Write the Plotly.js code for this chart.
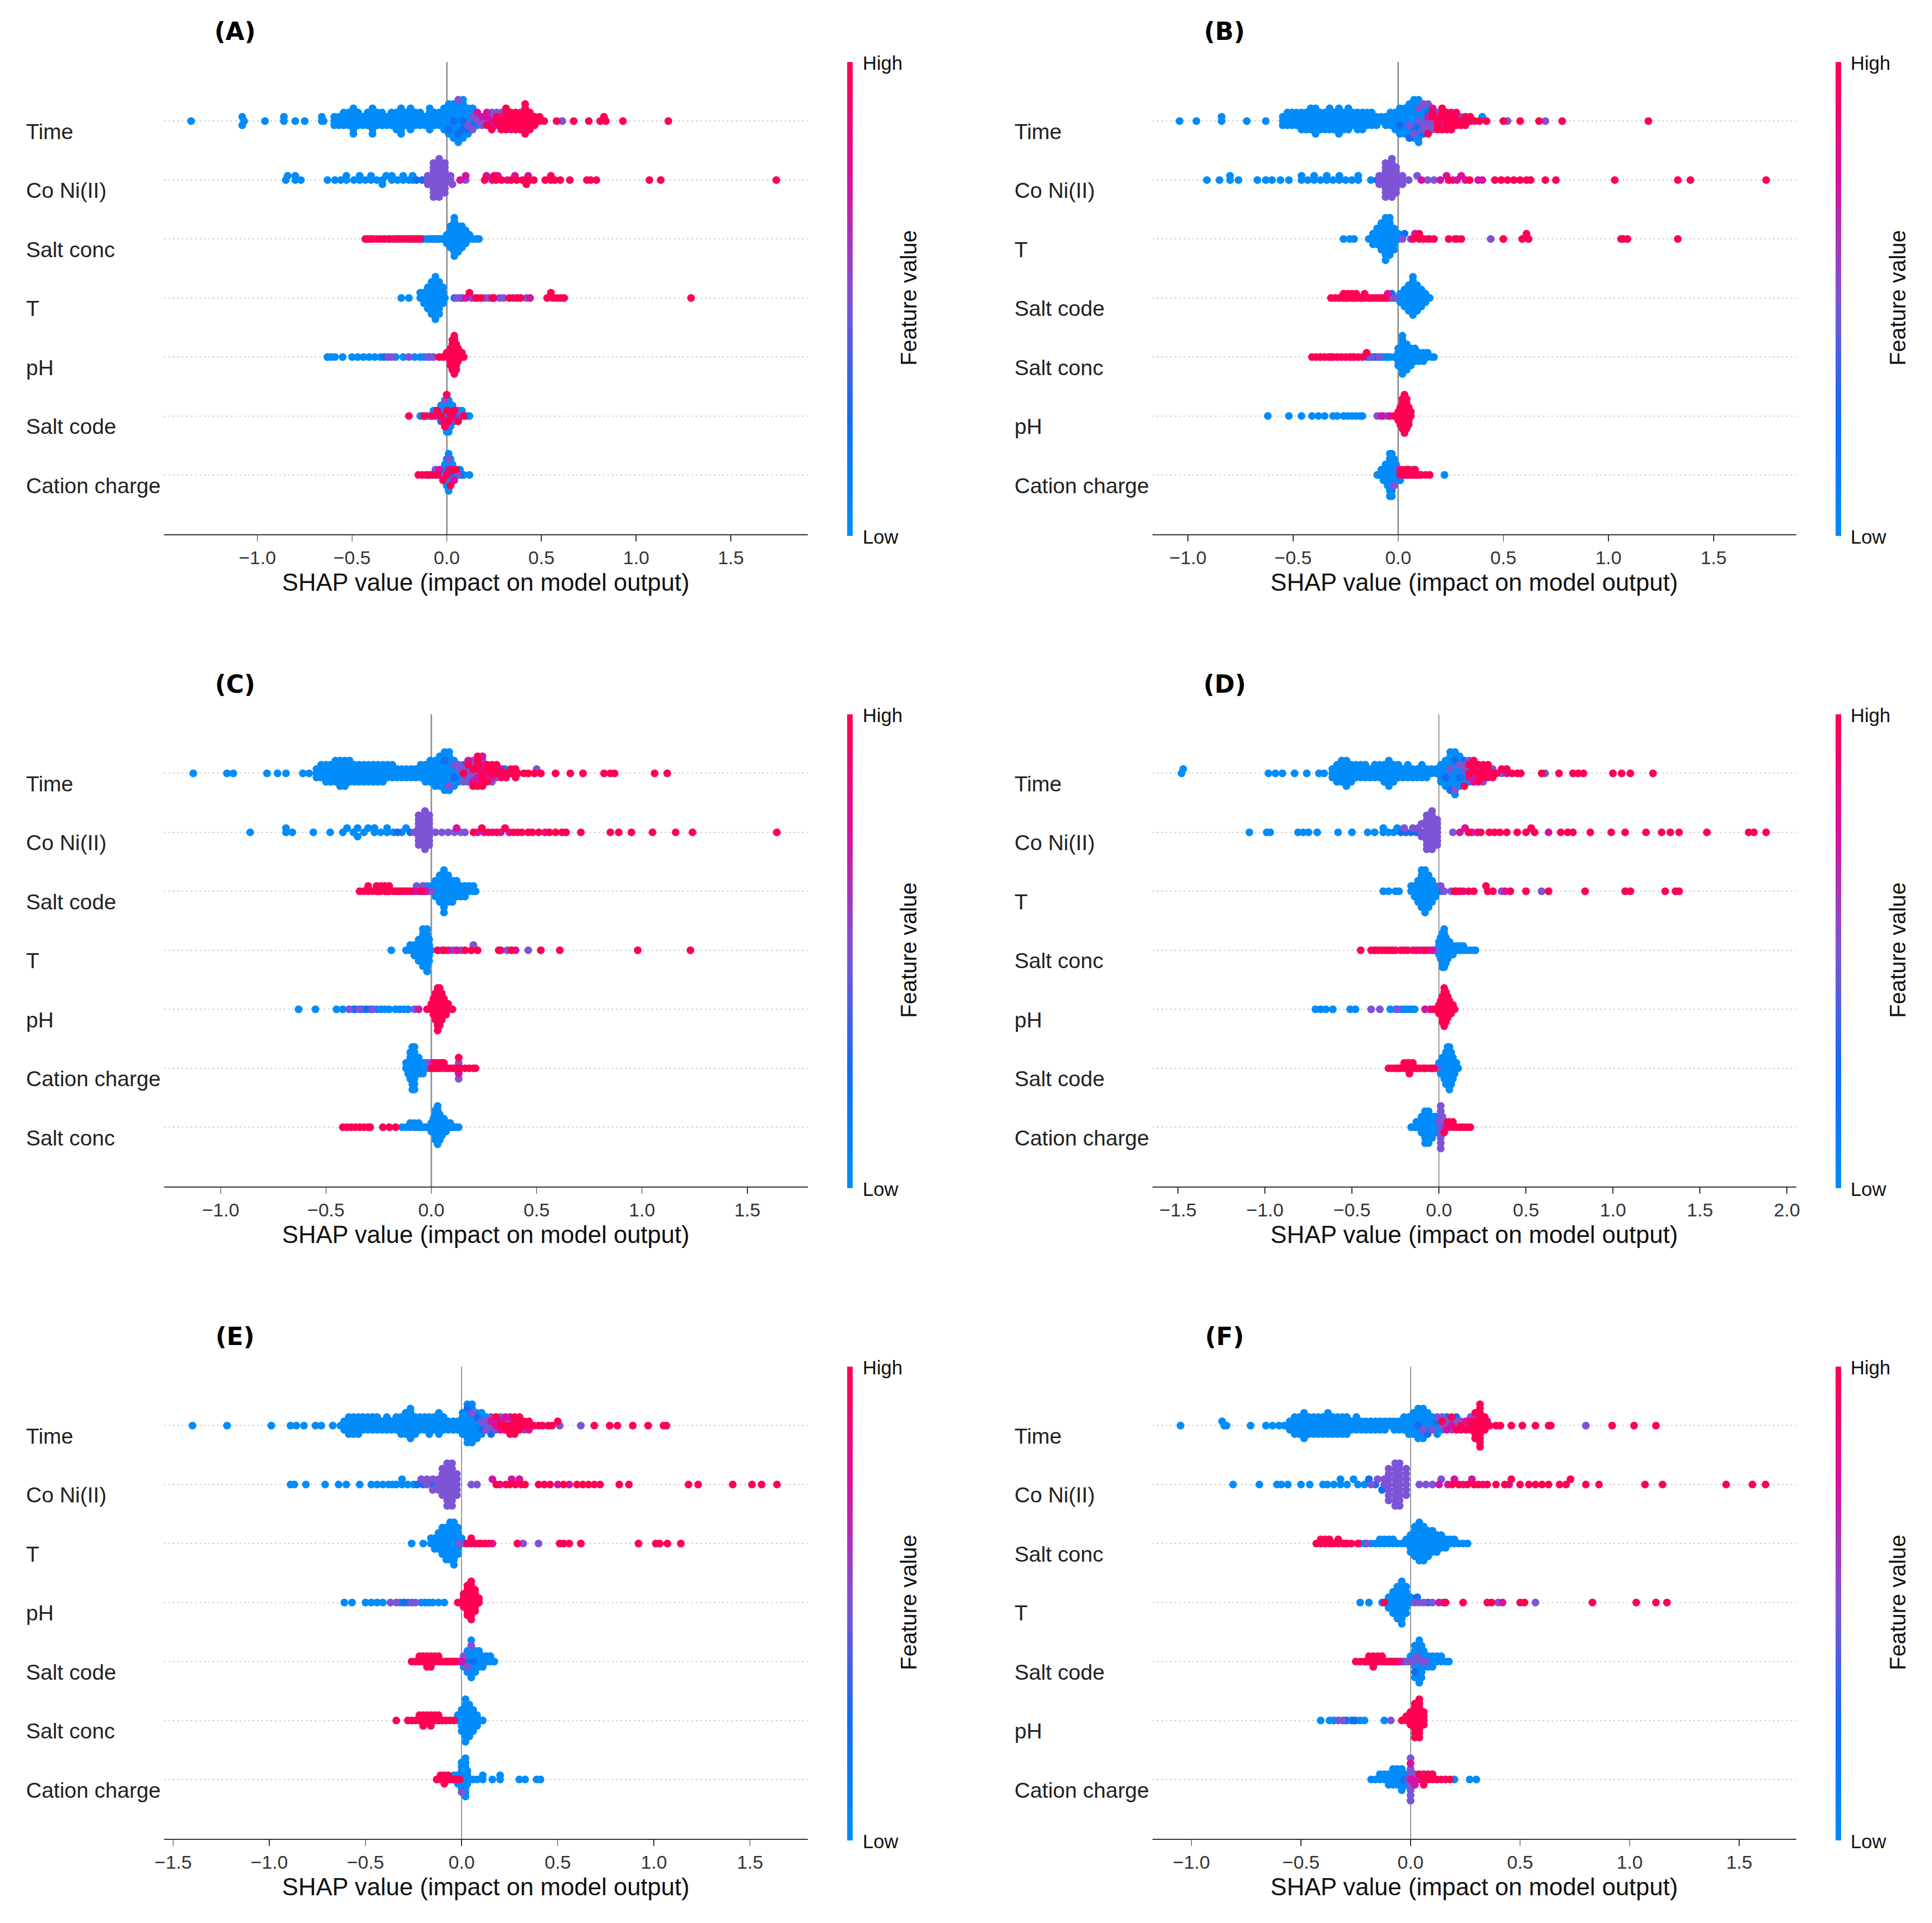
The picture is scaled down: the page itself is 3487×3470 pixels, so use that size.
<!DOCTYPE html>
<html><head><meta charset="utf-8">
<script src="https://cdn.plot.ly/plotly-3.0.1.min.js"></script>
<style>html,body{margin:0;padding:0;background:#fff}</style>
</head><body><div id="chart" style="width:3487px;height:3470px"></div>
<script>
// ---------- DATA (SHAP values per feature row; grouped by feature-value level 0=Low ... 4=High) ----------
const featA = ["Time","Co Ni(II)","Salt conc","T","pH","Salt code","Cation charge"];
const featB = ["Time","Co Ni(II)","T","Salt code","Salt conc","pH","Cation charge"];
const featC = ["Time","Co Ni(II)","Salt code","T","pH","Cation charge","Salt conc"];
const featD = ["Time","Co Ni(II)","T","Salt conc","pH","Salt code","Cation charge"];
const featE = ["Time","Co Ni(II)","T","pH","Salt code","Salt conc","Cation charge"];
const featF = ["Time","Co Ni(II)","Salt conc","T","Salt code","pH","Cation charge"];
const levelNames = ["Low","","","","High"];

// Panel A
const A_L0 = [
 [-1.35,-1.08,-1.08,-1.07,-.96,-.86,-.86,-.8,-.75,-.66,-.66,-.65,-.594,-.594,-.594,-.569,-.569,-.569,-.544,-.544,-.544,-.544,-.518,-.518,-.518,-.518,-.493,-.493,-.493,-.493,-.493,-.493,-.493,-.468,-.468,-.468,-.468,-.443,-.443,-.443,-.418,-.418,-.418,-.418,-.392,-.392,-.392,-.392,-.392,-.392,-.392,-.367,-.367,-.367,-.367,-.342,-.342,-.342,-.342,-.317,-.317,-.317,-.292,-.292,-.292,-.292,-.266,-.266,-.266,-.266,-.266,-.241,-.241,-.241,-.241,-.241,-.241,-.241,-.216,-.216,-.216,-.216,-.191,-.191,-.191,-.191,-.191,-.191,-.166,-.166,-.166,-.166,-.14,-.14,-.14,-.14,-.115,-.115,-.115,-.09,-.09,-.09,-.09,-.09,-.09,-.065,-.065,-.065,-.065,-.04,-.04,-.04,-.04,-.014,-.014,-.014,-.014,-.014,-.014,.011,.011,.011,.011,.011,.011,.011,.036,.036,.036,.036,.036,.036,.036,.036,.061,.061,.061,.061,.061,.061,.061,.061,.061,.086,.086,.086,.086,.086,.086,.086,.086,.112,.112,.112,.112,.112,.137,.137,.137,.162],
 [-.85,-.84,-.8,-.8,-.77,-.63,-.59,-.56,-.53,-.53,-.49,-.46,-.46,-.43,-.4,-.4,-.37,-.34,-.34,-.32,-.29,-.29,-.26,-.23,-.23,-.2,-.18,-.18],
 [-.31,-.27,-.23,-.21,-.17,-.15,-.13,-.12,-.1,-.09,-.08,-.07,-.06,-.05,-.04,-.03,-.02,-.01,0,0,0,.02,.02,.02,.02,.02,.02,.04,.04,.04,.04,.04,.04,.04,.04,.04,.04,.06,.06,.06,.06,.06,.06,.06,.08,.08,.08,.08,.08,.08,.1,.1,.1,.1,.12,.12,.14,.16,.17],
 [-.24,-.2,-.14,-.14,-.12,-.12,-.12,-.1,-.1,-.1,-.1,-.1,-.08,-.08,-.08,-.08,-.08,-.08,-.08,-.06,-.06,-.06,-.06,-.06,-.06,-.06,-.06,-.06,-.04,-.04,-.04,-.04,-.04,-.04,-.04,-.02,-.02,-.02,-.02,-.01],
 [-.63,-.61,-.59,-.55,-.5,-.47,-.44,-.41,-.38,-.35,-.27,-.23,-.17,-.14,-.12,-.09],
 [-.14,-.13,-.11,-.09,-.07,-.06,-.05,-.04,-.03,-.03,-.02,-.02,-.01,-.01,-.01,0,0,0,0,0,.01,.01,.01,.01,.01,.02,.02,.02,.03,.03,.04,.04,.05,.06,.07,.08,.1,.11,.12],
 [-.1,-.08,-.06,-.04,-.03,-.02,-.02,-.01,-.01,-.01,0,0,0,0,0,.01,.01,.01,.01,.01,.01,.02,.02,.02,.02,.03,.03,.04,.04,.05,.06,.07,.08,.09,.12]
];
const A_L1 = [[.011,.036,.061,.086,.086,.112,.137],[-.16,-.13],[-.26],[.04,.08],[-.33],[-.07,-.03,.03,.06],[-.03,.02,.07]];
const A_L2 = [
 [.061,.112,.137,.137,.162,.162,.187,.187,.212,.238,.238,.263,.288,.61],
 [-.1,-.1,-.1,-.07,-.07,-.07,-.07,-.07,-.07,-.07,-.07,-.07,-.04,-.04,-.04,-.04,-.04,-.04,-.04,-.04,-.04,-.04,-.01,-.01,-.01,-.01,-.01,-.01,-.01,-.01,.02,.02,.03,.1],
 [-.24,-.19],
 [.05,.07,.13,.2,.22,.28,.3,.42],
 [-.31,-.29,-.2,-.1,-.07],
 [-.1,-.04,-.01,0,.02,.05,.08],
 [-.06,-.01,.01,.03,.06]
];
const A_L3 = [[.162,.187,.212,.212,.238,.238,.263,.288,.338,.389],[.07,.1,.21,.24,.27,.32,.36,.43],[],[.1,.15,.25,.35,.44],[],[-.06,-.02,.01,.03],[-.04,.01,.04]];
const A_L4 = [
 [.212,.238,.263,.263,.288,.288,.288,.313,.313,.313,.313,.313,.313,.338,.338,.338,.338,.364,.364,.364,.364,.364,.389,.389,.389,.389,.414,.414,.414,.414,.414,.414,.414,.414,.439,.439,.439,.439,.439,.464,.464,.464,.49,.49,.515,.58,.67,.75,.81,.83,.84,.93,1.17],
 [.2,.25,.26,.29,.34,.37,.4,.42,.42,.44,.46,.52,.55,.55,.57,.6,.65,.74,.76,.79,1.07,1.13,1.74],
 [-.43,-.42,-.41,-.4,-.39,-.37,-.35,-.33,-.3,-.28,-.25,-.22,-.2,-.18,-.16,-.14],
 [.12,.16,.18,.24,.33,.37,.39,.53,.55,.56,.58,.6,.62,1.29],
 [-.04,-.02,0,0,.02,.02,.02,.02,.02,.03,.03,.03,.03,.03,.03,.03,.03,.04,.04,.04,.04,.04,.04,.04,.04,.04,.04,.05,.05,.05,.05,.05,.05,.05,.06,.06,.06,.06,.08,.08,.09],
 [-.2,-.12,-.08,-.05,-.03,-.01,-.01,0,0,.01,.02,.04,.06,.09],
 [-.15,-.13,-.11,-.09,-.07,-.05,-.02,0,.02,.03,.05]
];

// Panel B
const B_L0 = [
 [-1.04,-.96,-.84,-.84,-.72,-.63,-.549,-.549,-.549,-.527,-.527,-.527,-.527,-.505,-.505,-.505,-.505,-.483,-.483,-.483,-.483,-.46,-.46,-.46,-.46,-.46,-.438,-.438,-.438,-.438,-.438,-.416,-.416,-.416,-.416,-.416,-.416,-.393,-.393,-.393,-.393,-.393,-.393,-.393,-.371,-.371,-.371,-.371,-.371,-.349,-.349,-.349,-.349,-.349,-.326,-.326,-.326,-.326,-.326,-.326,-.304,-.304,-.304,-.304,-.304,-.282,-.282,-.282,-.282,-.282,-.282,-.282,-.26,-.26,-.26,-.26,-.26,-.237,-.237,-.237,-.237,-.237,-.237,-.215,-.215,-.215,-.215,-.193,-.193,-.193,-.193,-.193,-.17,-.17,-.17,-.17,-.17,-.148,-.148,-.148,-.148,-.126,-.126,-.126,-.126,-.103,-.103,-.103,-.081,-.081,-.059,-.059,-.059,-.037,-.037,-.037,-.037,-.014,-.014,-.014,-.014,-.014,.008,.008,.008,.008,.008,.008,.03,.03,.03,.03,.03,.03,.03,.053,.053,.053,.053,.053,.053,.053,.075,.075,.075,.075,.075,.075,.075,.075,.097,.097,.097,.097,.097,.097,.097,.097,.12,.12,.12,.12,.142,.142,.164,.4],
 [-.91,-.85,-.8,-.8,-.76,-.67,-.63,-.6,-.56,-.52,-.46,-.46,-.43,-.4,-.4,-.37,-.34,-.34,-.31,-.28,-.28,-.25,-.22,-.19,-.19,-.13],
 [-.26,-.23,-.21,-.14,-.12,-.12,-.12,-.1,-.1,-.1,-.1,-.08,-.08,-.08,-.08,-.08,-.08,-.06,-.06,-.06,-.06,-.06,-.06,-.06,-.06,-.06,-.04,-.04,-.04,-.04,-.04,-.04,-.04,-.04,-.02,-.02,-.02,-.02,-.02,0,0],
 [-.05,-.03,-.01,.01,.01,.01,.03,.03,.03,.03,.03,.05,.05,.05,.05,.05,.05,.05,.07,.07,.07,.07,.07,.07,.07,.07,.07,.07,.09,.09,.09,.09,.09,.09,.09,.11,.11,.11,.11,.11,.13,.13,.13,.15],
 [-.14,-.12,-.1,-.08,-.07,-.06,-.05,-.04,-.02,0,0,0,0,0,.02,.02,.02,.02,.02,.02,.02,.02,.02,.02,.04,.04,.04,.04,.04,.04,.04,.06,.06,.06,.06,.06,.08,.08,.08,.08,.1,.1,.1,.12,.12,.12,.14,.14,.16,.17],
 [-.62,-.52,-.46,-.41,-.38,-.35,-.31,-.29,-.26,-.24,-.22,-.2,-.18,-.17],
 [-.1,-.09,-.08,-.08,-.07,-.07,-.07,-.06,-.06,-.06,-.06,-.05,-.05,-.05,-.05,-.05,-.04,-.04,-.04,-.04,-.04,-.04,-.04,-.04,-.04,-.03,-.03,-.03,-.03,-.03,-.03,-.03,-.03,-.03,-.02,-.02,-.02,-.02,-.02,-.01,-.01,-.01,-.01,0,0,.01,.07,.22]
];
const B_L1 = [[.008,.053,.075,.097,.12,.142],[-.1],[.03],[-.07,-.03],[-.15,-.11],[],[]];
const B_L2 = [
 [.053,.075,.097,.097,.12,.12,.12,.142,.142,.142,.164,.164,.187,.209,.231,.253,.298,.52,.7],
 [-.09,-.09,-.09,-.06,-.06,-.06,-.06,-.06,-.06,-.06,-.06,-.06,-.03,-.03,-.03,-.03,-.03,-.03,-.03,-.03,-.03,-.03,-.01,-.01,-.01,-.01,-.01,-.01,-.01,.02,.02,.02,.05,.09,.14,.17],
 [.02,.06,.44],
 [-.11,-.04,-.02],
 [-.13,-.09],
 [-.1,-.07,-.05],
 [-.02,0,.02]
];
const B_L3 = [[.142,.164,.187,.209,.253,.276,.32],[.11,.2,.23,.26,.28,.3,.32,.38,.4],[.08,.15,.28],[-.25,-.21,-.17,-.13,-.09,-.05],[-.32,-.22],[-.08,-.04],[.01,.04,.09]];
const B_L4 = [
 [.142,.164,.164,.187,.187,.187,.209,.209,.209,.209,.231,.231,.231,.231,.253,.253,.253,.276,.276,.276,.298,.298,.32,.32,.343,.343,.365,.387,.42,.5,.58,.67,.78,1.19],
 [.24,.34,.46,.49,.52,.55,.58,.61,.63,.7,.75,1.03,1.33,1.39,1.75],
 [.07,.1,.1,.12,.14,.17,.24,.27,.3,.5,.59,.61,.62,1.06,1.07,1.09,1.33],
 [-.32,-.3,-.28,-.26,-.26,-.24,-.24,-.22,-.22,-.2,-.2,-.18,-.16,-.16,-.14,-.12,-.1,-.08,-.06],
 [-.41,-.39,-.37,-.35,-.33,-.31,-.29,-.27,-.25,-.23,-.21,-.19,-.17,-.15],
 [-.02,-.01,0,0,0,.01,.01,.01,.01,.01,.02,.02,.02,.02,.02,.02,.02,.02,.03,.03,.03,.03,.03,.03,.03,.03,.03,.03,.04,.04,.04,.04,.04,.04,.04,.04,.05,.05,.05,.05,.05,.06,.06],
 [.01,.02,.03,.04,.05,.05,.06,.07,.08,.08,.1,.11,.13,.15]
];

// Panel C
const C_L0 = [
 [-1.13,-.97,-.94,-.78,-.73,-.69,-.61,-.58,-.545,-.545,-.545,-.523,-.523,-.523,-.523,-.5,-.5,-.5,-.5,-.5,-.478,-.478,-.478,-.478,-.478,-.455,-.455,-.455,-.455,-.455,-.455,-.433,-.433,-.433,-.433,-.433,-.433,-.433,-.41,-.41,-.41,-.41,-.41,-.41,-.41,-.388,-.388,-.388,-.388,-.388,-.388,-.365,-.365,-.365,-.365,-.365,-.343,-.343,-.343,-.343,-.343,-.32,-.32,-.32,-.32,-.32,-.298,-.298,-.298,-.298,-.298,-.275,-.275,-.275,-.275,-.275,-.253,-.253,-.253,-.253,-.253,-.23,-.23,-.23,-.23,-.23,-.208,-.208,-.208,-.208,-.185,-.185,-.185,-.185,-.163,-.163,-.163,-.14,-.14,-.14,-.118,-.118,-.118,-.095,-.095,-.095,-.073,-.073,-.073,-.05,-.05,-.05,-.05,-.028,-.028,-.028,-.028,-.028,-.005,-.005,-.005,-.005,-.005,-.005,.018,.018,.018,.018,.018,.018,.018,.04,.04,.04,.04,.04,.04,.04,.04,.063,.063,.063,.063,.063,.063,.063,.063,.063,.085,.085,.085,.085,.085,.085,.085,.085,.085,.108,.108,.108,.108,.108,.13,.13,.13,.153,.175,.35],
 [-.86,-.69,-.69,-.66,-.56,-.48,-.42,-.4,-.37,-.35,-.35,-.32,-.3,-.27,-.27,-.24,-.21,-.21,-.18,-.14,-.12],
 [-.09,-.02,0,.02,.02,.02,.02,.04,.04,.04,.04,.04,.04,.06,.06,.06,.06,.06,.06,.06,.06,.06,.08,.08,.08,.08,.08,.08,.1,.1,.1,.1,.1,.12,.12,.12,.12,.14,.14,.14,.16,.16,.16,.18,.18,.2,.2,.21],
 [-.19,-.12,-.1,-.1,-.08,-.08,-.08,-.06,-.06,-.06,-.06,-.06,-.04,-.04,-.04,-.04,-.04,-.04,-.04,-.04,-.02,-.02,-.02,-.02,-.02,-.02,-.02,-.02,-.02,-.01,-.01,-.01,-.01,0],
 [-.63,-.55,-.45,-.42,-.37,-.33,-.29,-.26,-.24,-.22,-.2,-.17,-.15,-.13,-.11],
 [-.12,-.12,-.11,-.11,-.11,-.1,-.1,-.1,-.1,-.1,-.1,-.09,-.09,-.09,-.09,-.09,-.09,-.09,-.09,-.09,-.08,-.08,-.08,-.08,-.08,-.08,-.08,-.08,-.08,-.07,-.07,-.07,-.07,-.06,-.06,-.06,-.06,-.05,-.05,-.05,-.04,-.04,-.04,-.03,-.03,-.02,-.02,-.01,0,.03,.06],
 [-.14,-.12,-.1,-.1,-.08,-.08,-.07,-.06,-.06,-.05,-.04,-.03,-.02,-.01,0,0,0,.01,.01,.01,.01,.02,.02,.02,.02,.02,.02,.02,.02,.03,.03,.03,.03,.03,.03,.03,.03,.03,.03,.04,.04,.04,.04,.04,.04,.04,.05,.05,.05,.05,.05,.06,.06,.06,.06,.07,.07,.07,.08,.08,.09,.09,.1,.11,.12,.13]
];
const C_L1 = [[.063,.108,.153,.198,.243],[-.16,-.1],[-.13,-.06,-.01],[],[-.36,-.31],[],[]];
const C_L2 = [
 [.085,.108,.13,.13,.153,.153,.175,.175,.175,.198,.198,.198,.22,.22,.243,.265,.288,.31,.5],
 [-.08,-.06,-.06,-.06,-.06,-.06,-.06,-.06,-.06,-.03,-.03,-.03,-.03,-.03,-.03,-.03,-.03,-.03,-.03,-.01,-.01,-.01,-.01,-.01,-.01,-.01,-.01,.02,.05,.08,.11,.14,.16],
 [-.17,-.11,-.07,-.07,-.04,-.04,-.02,0],
 [.05,.1,.14,.2,.36,.46],
 [-.39,-.34,-.28,-.08],
 [-.01,.02,.05,.09,.13,.13],
 []
];
const C_L3 = [[.175,.198,.22,.243,.243,.265,.288,.333],[.12,.22,.25,.29,.33,.37,.41,.54],[-.25,-.21,-.15,-.08,-.03],[.08,.12,.33,.4],[-.06],[.01,.04,.07,.11,.13,.13],[]];
const C_L4 = [
 [.153,.175,.198,.198,.22,.22,.22,.22,.22,.243,.243,.243,.243,.265,.265,.265,.288,.288,.288,.31,.31,.31,.333,.333,.355,.355,.378,.378,.4,.4,.41,.44,.46,.49,.52,.59,.66,.72,.82,.85,.87,1.06,1.12],
 [.2,.24,.27,.31,.35,.39,.43,.46,.48,.51,.56,.59,.62,.64,.71,.85,.89,.95,1.05,1.16,1.24,1.64],
 [-.34,-.32,-.3,-.3,-.28,-.26,-.26,-.24,-.24,-.22,-.22,-.2,-.2,-.18,-.16,-.14,-.12,-.1,-.05],
 [.03,.06,.16,.19,.22,.32,.38,.52,.61,.98,1.23],
 [-.02,0,0,.01,.01,.01,.01,.02,.02,.02,.02,.02,.02,.03,.03,.03,.03,.03,.03,.03,.03,.03,.04,.04,.04,.04,.04,.04,.04,.04,.05,.05,.05,.05,.05,.05,.06,.06,.06,.06,.07,.07,.07,.08,.08,.1],
 [0,.01,.02,.03,.04,.05,.06,.08,.1,.12,.13,.14,.16,.18,.2,.21],
 [-.42,-.4,-.38,-.36,-.34,-.32,-.3,-.29,-.23,-.2,-.17]
];

// Panel D
const D_L0 = [
 [-1.48,-1.47,-.98,-.94,-.9,-.83,-.76,-.69,-.66,-.613,-.613,-.613,-.586,-.586,-.586,-.586,-.586,-.559,-.559,-.559,-.559,-.559,-.559,-.532,-.532,-.532,-.532,-.532,-.532,-.532,-.504,-.504,-.504,-.504,-.504,-.477,-.477,-.477,-.477,-.45,-.45,-.45,-.45,-.423,-.423,-.423,-.423,-.396,-.396,-.396,-.369,-.369,-.369,-.369,-.342,-.342,-.342,-.342,-.315,-.315,-.315,-.315,-.315,-.288,-.288,-.288,-.288,-.288,-.288,-.288,-.261,-.261,-.261,-.261,-.261,-.233,-.233,-.233,-.233,-.206,-.206,-.206,-.179,-.179,-.179,-.179,-.152,-.152,-.152,-.125,-.125,-.125,-.098,-.098,-.098,-.098,-.071,-.071,-.071,-.044,-.044,-.017,-.017,.011,.011,.011,.011,.011,.038,.038,.038,.038,.038,.038,.065,.065,.065,.065,.065,.065,.065,.065,.092,.092,.092,.092,.092,.092,.092,.092,.092,.119,.119,.119,.119,.119,.119,.146,.146,.146,.173],
 [-1.09,-.99,-.97,-.81,-.78,-.75,-.7,-.58,-.5,-.41,-.37,-.32,-.32,-.29,-.26,-.24],
 [-.32,-.29,-.25,-.23,-.16,-.16,-.14,-.14,-.14,-.12,-.12,-.12,-.12,-.12,-.1,-.1,-.1,-.1,-.1,-.1,-.1,-.1,-.08,-.08,-.08,-.08,-.08,-.08,-.08,-.08,-.08,-.06,-.06,-.06,-.06,-.06,-.06,-.06,-.04,-.04,-.04,-.04,-.04,-.02,-.02,-.02,0],
 [-.02,0,0,0,0,.01,.01,.01,.01,.01,.01,.02,.02,.02,.02,.02,.02,.02,.02,.02,.03,.03,.03,.03,.03,.03,.03,.03,.03,.03,.04,.04,.04,.04,.04,.04,.04,.05,.05,.05,.05,.05,.06,.06,.06,.06,.08,.08,.08,.1,.1,.12,.12,.14,.14,.16,.18,.2,.21],
 [-.71,-.68,-.65,-.61,-.51,-.48,-.28,-.25,-.22,-.2,-.18,-.16,-.14],
 [0,0,.01,.01,.01,.02,.02,.02,.02,.03,.03,.03,.03,.03,.04,.04,.04,.04,.04,.04,.04,.05,.05,.05,.05,.05,.05,.05,.05,.06,.06,.06,.06,.06,.06,.06,.06,.06,.07,.07,.07,.07,.07,.07,.07,.08,.08,.08,.08,.08,.09,.09,.09,.1,.1,.11],
 [-.16,-.14,-.13,-.13,-.12,-.12,-.1,-.1,-.1,-.1,-.08,-.08,-.08,-.08,-.08,-.08,-.08,-.06,-.06,-.06,-.06,-.06,-.06,-.06,-.04,-.04,-.04,-.04,-.04,-.02,-.02,-.02,-.02,0,0,.02,.04]
];
const D_L1 = [[.038,.065,.092,.119,.146,.2],[-.22,-.19,-.16,-.13],[.02],[],[],[],[]];
const D_L2 = [
 [.065,.092,.119,.146,.146,.173,.173,.2,.227,.254,.309,.36,.61],
 [-.2,-.15,-.12,-.1,-.1,-.1,-.07,-.07,-.07,-.07,-.07,-.07,-.07,-.07,-.07,-.04,-.04,-.04,-.04,-.04,-.04,-.04,-.04,-.04,-.04,-.01,-.01,-.01,-.01,-.01,-.01,-.01,.08],
 [.01,.03,.07,.36,.59],
 [-.09,-.03],
 [-.39,-.34,-.24],
 [-.02,-.01],
 [0,.01,.01,.01,.01,.01,.01,.01,.01,.01,.02,.02,.02,.03,.03,.05]
];
const D_L3 = [[.173,.2,.2,.227,.254,.282,.39],[.12,.15,.19,.22,.63],[.1,.14,.38],[-.2,-.15,-.11,-.06,-.04],[-.08,-.05],[-.23,-.16,-.12,-.08,-.04],[.04,.06,.08]];
const D_L4 = [
 [.146,.173,.173,.2,.2,.227,.227,.227,.254,.254,.254,.282,.282,.282,.309,.309,.33,.36,.39,.42,.45,.47,.59,.69,.77,.8,.83,1.0,1.05,1.1,1.23],
 [.17,.24,.29,.32,.35,.39,.45,.5,.53,.55,.7,.74,.77,.87,.99,1.07,1.19,1.28,1.33,1.38,1.54,1.78,1.81,1.88],
 [.09,.12,.17,.2,.27,.28,.31,.41,.5,.63,.84,1.07,1.1,1.3,1.36,1.38],
 [-.45,-.39,-.37,-.35,-.33,-.31,-.29,-.27,-.25,-.22,-.18,-.13,-.08],
 [-.03,-.01,0,0,0,.01,.01,.01,.01,.02,.02,.02,.02,.02,.02,.02,.03,.03,.03,.03,.03,.03,.03,.03,.03,.03,.04,.04,.04,.04,.04,.04,.04,.04,.05,.05,.05,.05,.05,.05,.06,.06,.06,.06,.07,.07,.07,.08,.08,.09],
 [-.29,-.27,-.25,-.24,-.22,-.2,-.2,-.18,-.18,-.17,-.17,-.17,-.15,-.15,-.13,-.11,-.09,-.07,-.05,-.03],
 [.03,.05,.06,.08,.1,.12,.14,.16,.18]
];

// Panel E
const E_L0 = [
 [-1.4,-1.22,-.99,-.89,-.86,-.82,-.76,-.73,-.67,-.63,-.611,-.611,-.611,-.587,-.587,-.587,-.587,-.587,-.562,-.562,-.562,-.562,-.562,-.537,-.537,-.537,-.537,-.537,-.513,-.513,-.513,-.513,-.488,-.488,-.488,-.488,-.463,-.463,-.463,-.463,-.439,-.439,-.439,-.439,-.414,-.414,-.414,-.389,-.389,-.389,-.389,-.365,-.365,-.365,-.34,-.34,-.34,-.34,-.315,-.315,-.315,-.315,-.315,-.291,-.291,-.291,-.291,-.291,-.291,-.266,-.266,-.266,-.266,-.266,-.266,-.266,-.266,-.241,-.241,-.241,-.241,-.241,-.217,-.217,-.217,-.217,-.192,-.192,-.192,-.192,-.168,-.168,-.168,-.168,-.168,-.143,-.143,-.143,-.143,-.118,-.118,-.118,-.118,-.118,-.118,-.094,-.094,-.094,-.094,-.069,-.069,-.069,-.044,-.044,-.044,-.02,-.02,-.02,.005,.005,.005,.005,.005,.005,.03,.03,.03,.03,.03,.03,.03,.03,.03,.054,.054,.054,.054,.054,.054,.054,.054,.054,.079,.079,.079,.079,.079,.079,.104,.104,.104,.104,.128,.128,.153,.178],
 [-.89,-.87,-.81,-.71,-.64,-.6,-.53,-.47,-.44,-.41,-.38,-.36,-.34,-.31,-.31,-.28,-.25],
 [-.26,-.2,-.16,-.16,-.14,-.14,-.14,-.12,-.12,-.12,-.12,-.1,-.1,-.1,-.1,-.1,-.1,-.08,-.08,-.08,-.08,-.08,-.08,-.08,-.06,-.06,-.06,-.06,-.06,-.06,-.06,-.06,-.04,-.04,-.04,-.04,-.04,-.04,-.04,-.04,-.04,-.02,-.02,-.02,-.02,-.02,-.02,0,0],
 [-.61,-.57,-.5,-.47,-.44,-.41,-.32,-.28,-.21,-.19,-.17,-.15,-.12,-.09],
 [-.01,.01,.01,.03,.03,.03,.03,.05,.05,.05,.05,.05,.05,.05,.07,.07,.07,.07,.07,.09,.09,.09,.09,.11,.11,.11,.13,.13,.15,.15,.17],
 [-.02,-.02,0,0,0,0,0,.02,.02,.02,.02,.02,.02,.02,.02,.02,.04,.04,.04,.04,.04,.04,.04,.06,.06,.06,.06,.06,.08,.08,.08,.1,.11],
 [-.04,-.02,-.02,0,0,0,0,0,0,0,.02,.02,.02,.02,.02,.02,.02,.02,.02,.02,.03,.03,.03,.03,.06,.08,.11,.11,.16,.2,.2,.3,.33,.39,.41]
];
const E_L1 = [[.03,.079,.104,.153],[-.23,-.2,-.15],[.02],[-.3],[.02,.06],[],[]];
const E_L2 = [
 [.054,.104,.128,.128,.153,.153,.178,.202,.227,.252,.276,.326,.51,.62],
 [-.21,-.18,-.18,-.15,-.15,-.12,-.12,-.12,-.1,-.1,-.1,-.1,-.1,-.1,-.075,-.075,-.075,-.075,-.075,-.075,-.075,-.075,-.075,-.05,-.05,-.05,-.05,-.05,-.05,-.05,-.05,-.05,-.025,-.025,-.025,-.025,-.025,.05,.08],
 [-.01,.32,.4],
 [-.37,-.34,-.26,-.24],
 [-.05,-.02,.01,.03,.05],
 [],
 [-.06,-.02,0]
];
const E_L3 = [[.153,.178,.202,.202,.227,.252,.301,.35],[.16,.2,.26,.3,.5,.56],[.05,.1,.16],[],[-.15,-.11,-.07,-.03,0],[],[-.08,-.04]];
const E_L4 = [
 [.178,.202,.227,.227,.252,.252,.252,.276,.276,.276,.276,.301,.301,.301,.326,.326,.35,.35,.375,.4,.42,.45,.47,.5,.69,.77,.81,.89,.97,1.05,1.065],
 [.18,.23,.25,.28,.31,.33,.4,.43,.46,.53,.6,.63,.66,.69,.72,.82,.87,1.18,1.23,1.41,1.51,1.56,1.64],
 [.03,.05,.07,.09,.12,.14,.29,.51,.53,.56,.62,.92,1.01,1.03,1.07,1.14],
 [-.02,.01,.01,.01,.01,.03,.03,.03,.03,.03,.03,.03,.03,.05,.05,.05,.05,.05,.05,.05,.05,.05,.05,.07,.07,.07,.07,.07,.07,.09,.09],
 [-.26,-.24,-.22,-.22,-.2,-.2,-.18,-.18,-.18,-.16,-.16,-.16,-.14,-.14,-.12,-.12,-.1,-.08,-.06,-.04],
 [-.34,-.28,-.26,-.24,-.22,-.22,-.2,-.2,-.2,-.18,-.18,-.16,-.16,-.16,-.14,-.14,-.12,-.12,-.1,-.08,-.06,-.04],
 [-.13,-.11,-.11,-.09,-.09,-.09,-.07,-.07,-.05,-.03,-.01]
];

// Panel F
const F_L0 = [
 [-1.05,-.86,-.85,-.84,-.73,-.66,-.63,-.6,-.575,-.551,-.551,-.551,-.529,-.529,-.529,-.529,-.529,-.508,-.508,-.508,-.508,-.508,-.486,-.486,-.486,-.486,-.486,-.486,-.486,-.464,-.464,-.464,-.464,-.464,-.442,-.442,-.442,-.442,-.442,-.421,-.421,-.421,-.421,-.421,-.399,-.399,-.399,-.399,-.399,-.377,-.377,-.377,-.377,-.377,-.377,-.356,-.356,-.356,-.356,-.356,-.334,-.334,-.334,-.334,-.334,-.312,-.312,-.312,-.312,-.312,-.291,-.291,-.291,-.291,-.291,-.269,-.269,-.269,-.247,-.247,-.247,-.247,-.225,-.225,-.225,-.204,-.204,-.204,-.182,-.182,-.182,-.16,-.16,-.16,-.139,-.139,-.139,-.117,-.117,-.117,-.095,-.095,-.074,-.074,-.074,-.052,-.052,-.052,-.03,-.03,-.03,-.03,-.008,-.008,-.008,-.008,-.008,.013,.013,.013,.013,.013,.013,.035,.035,.035,.035,.035,.035,.035,.057,.057,.057,.057,.057,.057,.057,.078,.078,.078,.078,.078,.1,.1,.1,.122,.122,.122,.144,.19],
 [-.81,-.69,-.61,-.59,-.56,-.5,-.46,-.4,-.38,-.35,-.32,-.32,-.29,-.26,-.24,-.21],
 [-.23,-.21,-.18,-.16,-.14,-.14,-.12,-.12,-.1,-.1,-.08,-.08,-.06,-.04,-.02,-.02,0,0,0,0,0,.02,.02,.02,.02,.02,.02,.02,.02,.04,.04,.04,.04,.04,.04,.04,.04,.04,.04,.06,.06,.06,.06,.06,.06,.06,.06,.06,.08,.08,.08,.08,.08,.08,.08,.1,.1,.1,.1,.1,.1,.12,.12,.12,.12,.12,.14,.14,.14,.14,.16,.16,.16,.18,.18,.2,.2,.22,.24,.26],
 [-.23,-.19,-.13,-.1,-.1,-.1,-.08,-.08,-.08,-.08,-.08,-.06,-.06,-.06,-.06,-.06,-.06,-.06,-.04,-.04,-.04,-.04,-.04,-.04,-.04,-.04,-.04,-.02,-.02,-.02,-.02,-.02,-.02,0,0],
 [-.02,0,0,.02,.02,.02,.02,.02,.02,.03,.03,.03,.03,.03,.04,.04,.04,.04,.04,.04,.04,.04,.04,.05,.05,.05,.05,.05,.05,.06,.06,.06,.06,.08,.08,.08,.1,.1,.1,.12,.12,.14,.14,.16,.175],
 [-.41,-.37,-.35,-.29,-.27,-.25,-.23,-.21,-.12],
 [-.18,-.16,-.14,-.14,-.12,-.12,-.1,-.1,-.1,-.08,-.08,-.08,-.08,-.06,-.06,-.06,-.06,-.04,-.04,-.04,-.04,-.04,-.02,-.02,-.02,.2,.27,.3]
];
const F_L1 = [[.035,.078,.122,.165,.209],[-.19,-.16,-.13],[],[.03,.08],[-.04,.02],[-.3,-.26],[-.03,.01]];
const F_L2 = [
 [.057,.1,.122,.144,.144,.165,.165,.187,.209,.209,.23,.252,.274,.295,.33,.8],
 [-.18,-.15,-.12,-.12,-.1,-.1,-.1,-.1,-.1,-.1,-.1,-.07,-.07,-.07,-.07,-.07,-.07,-.07,-.07,-.07,-.05,-.05,-.05,-.05,-.05,-.05,-.05,-.05,-.05,-.02,-.02,-.02,-.02,-.02,-.02,.04,.07,.1,.14],
 [-.2],
 [.02,.04,.06,.1,.4,.57],
 [-.1,-.06,-.03,-.01,.01,.03,.05,.07],
 [-.33,-.31,-.09],
 [-.01,0,0,0,0,0,0,0,.02,.02,.03,.05]
];
const F_L3 = [[.165,.187,.23,.252,.274,.35],[.13,.17,.2,.24,.28,.33,.45],[-.36,-.3],[.13,.15,.42],[-.2,-.16,-.12,-.08,-.05],[],[0,0,.01,.02,.04,.06]];
const F_L4 = [
 [.144,.187,.209,.23,.252,.274,.274,.295,.295,.295,.295,.295,.295,.317,.317,.317,.317,.317,.317,.317,.317,.317,.317,.317,.339,.339,.339,.361,.39,.41,.46,.51,.57,.63,.64,.92,1.02,1.12],
 [.19,.22,.26,.29,.31,.35,.39,.43,.46,.5,.54,.57,.6,.63,.68,.71,.73,.8,.86,1.07,1.15,1.44,1.56,1.62],
 [-.43,-.41,-.41,-.39,-.39,-.37,-.37,-.35,-.33,-.33,-.31,-.29,-.27,-.24],
 [-.12,.16,.24,.35,.37,.5,.52,.83,1.03,1.12,1.17],
 [-.25,-.23,-.21,-.19,-.19,-.17,-.17,-.17,-.15,-.15,-.13,-.13,-.11,-.09,-.07],
 [-.04,-.02,-.02,0,0,0,0,.01,.02,.02,.02,.02,.02,.02,.02,.02,.02,.03,.04,.04,.04,.04,.04,.04,.04,.04,.04,.04,.05,.06,.06,.06,.06],
 [.04,.06,.06,.08,.08,.1,.1,.12,.14,.16,.18]
];

const xTitle = "SHAP value (impact on model output)";
const panelTags = ["(A)","(B)","(C)","(D)","(E)","(F)"];

// ---------- LAYOUT / STYLE ----------
const W = 3487, H = 3470;
const FONT = "Liberation Sans, Arial, Helvetica, sans-serif";
const G = {
  colX: [[296, 1457.5], [2080, 3241.5]],
  rowTop: 112, plotH: 851.5, rowStep: 1177,
  labelX: [45, 1829], cbLeft: [1529, 3313], hiX: [1555, 3338], fvX: [1640, 3425],
  tagX: [424, 2210], tagY: 57
};
const CS = [[0,'rgb(0,140,250)'],[0.25,'rgb(18,110,240)'],[0.5,'rgb(126,84,214)'],[0.75,'rgb(214,18,160)'],[1,'rgb(255,0,82)']];

const panels = [
  {feats: featA, L: [A_L0,A_L1,A_L2,A_L3,A_L4], range: [-1.493, 1.905], c: 0, r: 0},
  {feats: featB, L: [B_L0,B_L1,B_L2,B_L3,B_L4], range: [-1.169, 1.892], c: 1, r: 0},
  {feats: featC, L: [C_L0,C_L1,C_L2,C_L3,C_L4], range: [-1.269, 1.786], c: 0, r: 1},
  {feats: featD, L: [D_L0,D_L1,D_L2,D_L3,D_L4], range: [-1.647, 2.052], c: 1, r: 1},
  {feats: featE, L: [E_L0,E_L1,E_L2,E_L3,E_L4], range: [-1.548, 1.799], c: 0, r: 2},
  {feats: featF, L: [F_L0,F_L1,F_L2,F_L3,F_L4], range: [-1.178, 1.759], c: 1, r: 2}
];

// Beeswarm stacking in the SHAP style (100 bins, alternate up/down); tallest stack fills 0.36 of a row
function swarm(xs) {
  const n = xs.length;
  if (!n) return [];
  let mn = Infinity, mx = -Infinity;
  xs.forEach(v => { if (v < mn) mn = v; if (v > mx) mx = v; });
  const q = xs.map(v => Math.round(100 * (v - mn) / (mx - mn + 1e-8)));
  const tk = xs.map((v, i) => (i * 7919 + 17) % 97);
  const idx = xs.map((v, i) => i).sort((a, b) => (q[a] - q[b]) || (tk[a] - tk[b]));
  const ys = new Array(n).fill(0);
  let layer = 0, last = -1;
  for (const i of idx) {
    if (q[i] !== last) layer = 0;
    ys[i] = Math.ceil(layer / 2) * ((layer % 2) * 2 - 1);
    layer++; last = q[i];
  }
  let m = 1; ys.forEach(y => { if (Math.abs(y) > m) m = Math.abs(y); });
  return ys.map(y => y * 0.36 / m);
}

const data = [];
const layout = {
  width: W, height: H, margin: {l: 0, r: 0, t: 0, b: 0},
  paper_bgcolor: '#ffffff', plot_bgcolor: 'rgba(0,0,0,0)', showlegend: false,
  font: {family: FONT, color: '#222'}, annotations: []
};

panels.forEach((p, k) => {
  const n = k + 1, sfx = n === 1 ? '' : String(n);
  const top = G.rowTop + p.r * G.rowStep, bot = top + G.plotH;
  const [x0, x1] = G.colX[p.c];
  const nf = p.feats.length;
  const X = [], Y = [], C = [];
  p.feats.forEach((f, ri) => {
    const vals = [], lev = [];
    p.L.forEach((lv, li) => (lv[ri] || []).forEach(v => { vals.push(v); lev.push(li); }));
    const ys = swarm(vals);
    const pos = nf - 1 - ri;
    vals.forEach((v, i) => { X.push(v); Y.push(pos + ys[i]); C.push(lev[i]); });
    const rowPx = top + (nf - pos) / (nf + 1) * (bot - top);
    layout.annotations.push({
      xref: 'paper', yref: 'paper', x: G.labelX[p.c] / W, y: 1 - (rowPx + 19) / H,
      xanchor: 'left', yanchor: 'middle', showarrow: false, text: f,
      font: {family: FONT, size: 39, color: '#222'}
    });
  });
  data.push({
    type: 'scatter', mode: 'markers', x: X, y: Y,
    xaxis: 'x' + sfx, yaxis: 'y' + sfx, hoverinfo: 'skip', cliponaxis: false,
    marker: {size: 14, color: C, coloraxis: 'coloraxis' + sfx, line: {width: 0}, opacity: 1}
  });
  layout['xaxis' + sfx] = {
    domain: [x0 / W, x1 / W], range: p.range, anchor: 'y' + sfx,
    showline: true, linecolor: '#333333', linewidth: 2.5,
    ticks: 'outside', ticklen: 11, tickwidth: 1.5, tickcolor: '#333333',
    tick0: 0, dtick: 0.5, tickformat: '.1f', tickfont: {family: FONT, size: 34, color: '#333333'},
    showgrid: false, zeroline: true, zerolinecolor: '#999999', zerolinewidth: 2.5,
    title: {text: xTitle, font: {family: FONT, size: 44, color: '#111111'}, standoff: 12},
    automargin: false, fixedrange: true
  };
  layout['yaxis' + sfx] = {
    domain: [1 - bot / H, 1 - top / H], range: [-1, nf], anchor: 'x' + sfx,
    tickvals: p.feats.map((f, i) => i), showticklabels: false, ticks: '',
    showgrid: true, gridcolor: '#cfcfcf', gridwidth: 2, griddash: '3px,5px',
    zeroline: false, showline: false, automargin: false, fixedrange: true
  };
  layout['coloraxis' + sfx] = {
    colorscale: CS, cmin: 0, cmax: 4, showscale: true,
    colorbar: {
      x: G.cbLeft[p.c] / W, xanchor: 'left', xpad: 0, ypad: 0,
      y: 1 - ((top + bot + 3) / 2) / H, yanchor: 'middle',
      len: bot - top + 3, lenmode: 'pixels', thickness: 10, thicknessmode: 'pixels',
      outlinewidth: 0, borderwidth: 0, showticklabels: false, ticks: ''
    }
  };
  layout.annotations.push(
    {xref: 'paper', yref: 'paper', x: G.hiX[p.c] / W, y: 1 - (top + 1) / H, xanchor: 'left', yanchor: 'middle',
     showarrow: false, text: levelNames[4], font: {family: FONT, size: 35, color: '#111'}},
    {xref: 'paper', yref: 'paper', x: G.hiX[p.c] / W, y: 1 - (bot + 5) / H, xanchor: 'left', yanchor: 'middle',
     showarrow: false, text: levelNames[0], font: {family: FONT, size: 35, color: '#111'}},
    {xref: 'paper', yref: 'paper', x: G.fvX[p.c] / W, y: 1 - ((top + bot) / 2) / H, xanchor: 'center', yanchor: 'middle',
     showarrow: false, textangle: -90, text: 'Feature value', font: {family: FONT, size: 40, color: '#111'}},
    {xref: 'paper', yref: 'paper', x: G.tagX[p.c] / W, y: 1 - (G.tagY + p.r * G.rowStep) / H, xanchor: 'center', yanchor: 'middle',
     showarrow: false, text: '<b>' + panelTags[k] + '</b>', font: {family: 'DejaVu Sans, sans-serif', size: 44, color: '#000'}}
  );
});

Plotly.newPlot('chart', data, layout, {staticPlot: true, displayModeBar: false});
</script>
</body></html>
